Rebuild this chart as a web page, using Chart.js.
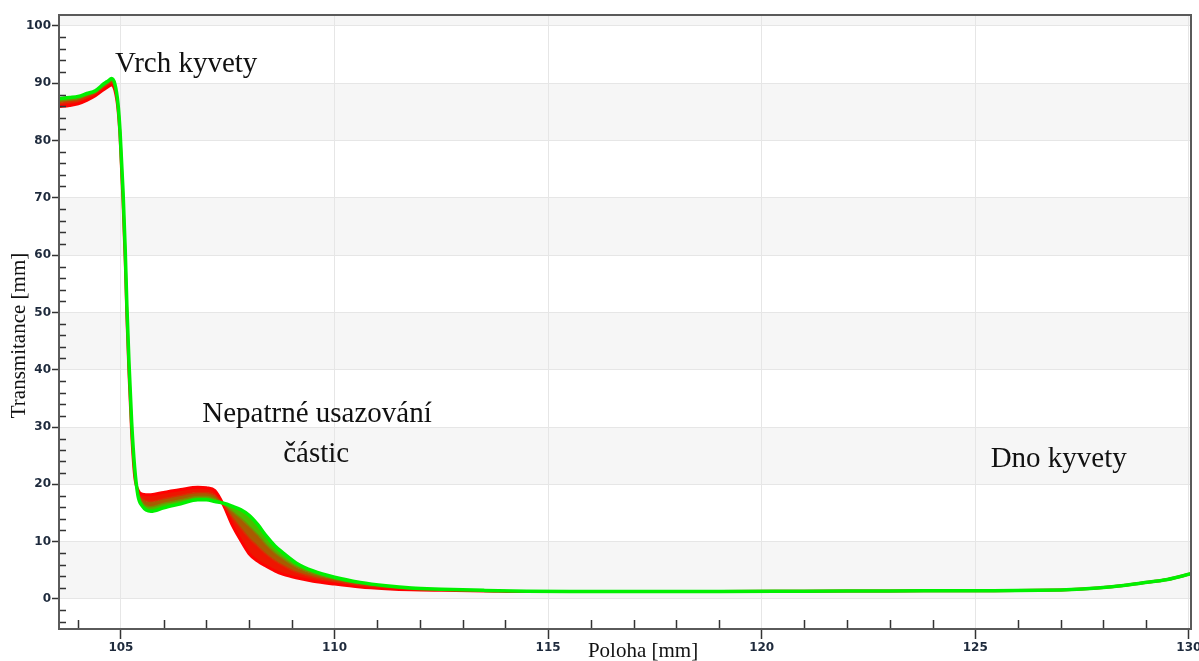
<!DOCTYPE html>
<html><head><meta charset="utf-8">
<script src="https://cdn.jsdelivr.net/npm/chart.js@4.4.1/dist/chart.umd.min.js"></script>
<style>html,body{margin:0;padding:0;background:#fff;}canvas{display:block;}</style>
</head><body>
<canvas id="c" width="1199" height="661"></canvas>
<script>
// Position along the cuvette [mm]
const positions = [103.55,103.8,104.0,104.2,104.4,104.6,104.7,104.78,104.86,104.93,104.98,105.05,105.10,105.14,105.19,105.25,105.32,105.40,105.5,105.7,106.0,106.4,106.8,107.0,107.2,107.4,107.6,107.8,108.0,108.2,108.4,108.6,108.8,109.1,109.5,110.0,110.6,111.2,111.8,112.5,113.5,114.5,115.5,117.0,119.0,121.0,123.0,125.0,126.5,127.5,128.2,128.9,129.5,130.05];
// Transmission profiles (first scan = red ... last scan = green)
const firstScan = [85.9,86.1,86.4,87.0,87.8,88.9,89.4,89.7,88.7,85.5,80.5,69,59,49,39,29,21.5,19.0,18.3,18.2,18.6,19.1,19.5,19.4,18.9,16.4,13.0,10.3,7.9,6.6,5.7,4.9,4.3,3.7,3.1,2.6,2.1,1.8,1.6,1.5,1.4,1.3,1.3,1.3,1.3,1.35,1.4,1.45,1.5,1.75,2.15,2.8,3.4,4.4];
const earlyScan = [86.5,86.7,86.9,87.5,88.2,89.3,89.8,90.1,89.1,85.9,80.9,69.8,59.8,49.8,39.8,29.8,22.4,18.6,17.5,17.0,17.5,18.1,18.6,18.6,18.1,16.5,14.3,12.4,10.6,9.2,7.8,6.7,5.8,4.7,3.8,3.1,2.4,2.0,1.7,1.6,1.45,1.3,1.3,1.3,1.3,1.35,1.4,1.45,1.5,1.75,2.15,2.8,3.4,4.4];
const lateScan = [86.9,87.1,87.3,87.9,88.4,89.6,90.1,90.5,89.5,86.2,81.2,70.4,60.4,50.4,40.4,30.4,22.7,18.3,16.8,16.1,16.7,17.3,17.9,17.9,17.5,16.6,15.3,14.1,12.7,11.2,9.5,8.1,7.0,5.6,4.4,3.5,2.7,2.2,1.8,1.65,1.5,1.35,1.3,1.3,1.3,1.35,1.4,1.45,1.5,1.75,2.15,2.8,3.4,4.4];
const lastScan = [87.3,87.5,87.7,88.2,88.7,89.9,90.4,90.8,89.8,86.5,81.5,71,61,51,41,31,23,18.0,16.2,15.3,15.9,16.6,17.3,17.3,17.0,16.7,16.2,15.6,14.6,13.0,11.0,9.3,8.0,6.3,4.9,3.8,2.9,2.3,1.9,1.7,1.5,1.35,1.3,1.3,1.3,1.35,1.4,1.45,1.5,1.75,2.15,2.8,3.4,4.4];
// Tick labels
const xTickValues = [105,110,115,120,125,130];
const yTickValues = [0,10,20,30,40,50,60,70,80,90,100];
// Annotations
const notes = [
  {text:'Vrch kyvety', x:104.86, y:92.0, align:'left'},
  {text:'Nepatrné usazování', x:109.59, y:30.94, align:'center'},
  {text:'částic', x:109.57, y:23.96, align:'center'},
  {text:'Dno kyvety', x:125.36, y:23.09, align:'left'}
];
const xTitle = 'Poloha [mm]';
const yTitle = 'Transmitance [mm]';

const pts = arr => positions.map((x,i)=>({x:x, y:arr[i]}));

const decor = {
  id:'decor',
  beforeDraw(chart){
    const {ctx, chartArea:a, scales:{x,y}} = chart;
    ctx.save();
    ctx.fillStyle = '#f6f6f6';
    const bands = [[0,10],[20,30],[40,50],[60,70],[80,90],[100,y.max]];
    bands.forEach(([lo,hi])=>{
      const t = y.getPixelForValue(hi), b = y.getPixelForValue(lo);
      ctx.fillRect(a.left, t, a.right-a.left, b-t);
    });
    ctx.restore();
  },
  afterDraw(chart){
    const {ctx, chartArea:a, scales:{x,y}} = chart;
    ctx.save();
    // minor ticks (inside)
    ctx.strokeStyle = '#333'; ctx.lineWidth = 1.5;
    ctx.beginPath();
    for (let v=104; v<130; v++) {
      if (v%5===0) continue;
      const px = Math.round(x.getPixelForValue(v))+0.5;
      ctx.moveTo(px, a.bottom); ctx.lineTo(px, a.bottom-9);
    }
    for (let v=-4; v<=100; v+=2) {
      if (v%10===0) continue;
      const py = Math.round(y.getPixelForValue(v))+0.5;
      ctx.moveTo(a.left, py); ctx.lineTo(a.left+7, py);
    }
    ctx.stroke();
    // frame
    ctx.strokeStyle = '#5a5a5a'; ctx.lineWidth = 2;
    ctx.strokeRect(a.left, a.top, a.right-a.left, a.bottom-a.top);
    // annotations
    ctx.fillStyle = '#111';
    ctx.font = '29px "Liberation Serif", "Times New Roman", serif';
    ctx.textBaseline = 'alphabetic';
    notes.forEach(n=>{
      ctx.textAlign = n.align;
      ctx.fillText(n.text, x.getPixelForValue(n.x), y.getPixelForValue(n.y));
    });
    // axis titles
    ctx.font = '21px "Liberation Serif", "Times New Roman", serif';
    ctx.textAlign = 'center';
    ctx.fillText(xTitle, 643, 657);
    ctx.translate(25, 335.5);
    ctx.rotate(-Math.PI/2);
    ctx.fillText(yTitle, 0, 0);
    ctx.restore();
  }
};

const tickFont = {family:'"DejaVu Sans", Verdana, sans-serif', size:12, weight:'bold'};
const tickColor = '#1e2a3c';

new Chart(document.getElementById('c'), {
  type:'line',
  data:{datasets:[
    {data:pts(firstScan), borderColor:'#ff0000', borderWidth:3, order:3, fill:false},
    {data:pts(earlyScan), borderColor:'#d63000', borderWidth:1.5, order:2, fill:'-1', backgroundColor:'#ee1500'},
    {data:pts(lateScan), borderColor:'#7d8800', borderWidth:1.5, order:1, fill:'-1', backgroundColor:'#a85c00'},
    {data:pts(lastScan), borderColor:'#00f000', borderWidth:3.5, order:0, fill:'-1', backgroundColor:'#4cba00'}
  ]},
  plugins:[decor],
  options:{
    responsive:false, animation:false, devicePixelRatio:1,
    layout:{padding:{left:0, top:15, right:8, bottom:0}},
    elements:{point:{radius:0}, line:{cubicInterpolationMode:'monotone'}},
    plugins:{legend:{display:false}, tooltip:{enabled:false}, filler:{drawTime:'beforeDatasetsDraw'}},
    scales:{
      x:{type:'linear', min:103.55, max:130.05,
        afterBuildTicks(s){ s.ticks = xTickValues.map(v=>({value:v})); },
        afterFit(s){ s.height = 32; s.paddingLeft = 0; s.paddingRight = 0; },
        ticks:{font:tickFont, color:tickColor, padding:2, maxRotation:0, autoSkip:false},
        grid:{color:'#e6e6e6', lineWidth:1, tickLength:10, tickColor:'#333', tickWidth:1.5},
        border:{display:false}
      },
      y:{type:'linear', min:-5.24, max:101.9,
        afterBuildTicks(s){ s.ticks = yTickValues.map(v=>({value:v})); },
        afterFit(s){ s.width = 59; s.paddingTop = 0; s.paddingBottom = 0; },
        ticks:{font:tickFont, color:tickColor, padding:1, autoSkip:false},
        grid:{color:'#e6e6e6', lineWidth:1, tickLength:7, tickColor:'#333', tickWidth:1.5},
        border:{display:false}
      }
    }
  }
});
</script>
</body></html>
